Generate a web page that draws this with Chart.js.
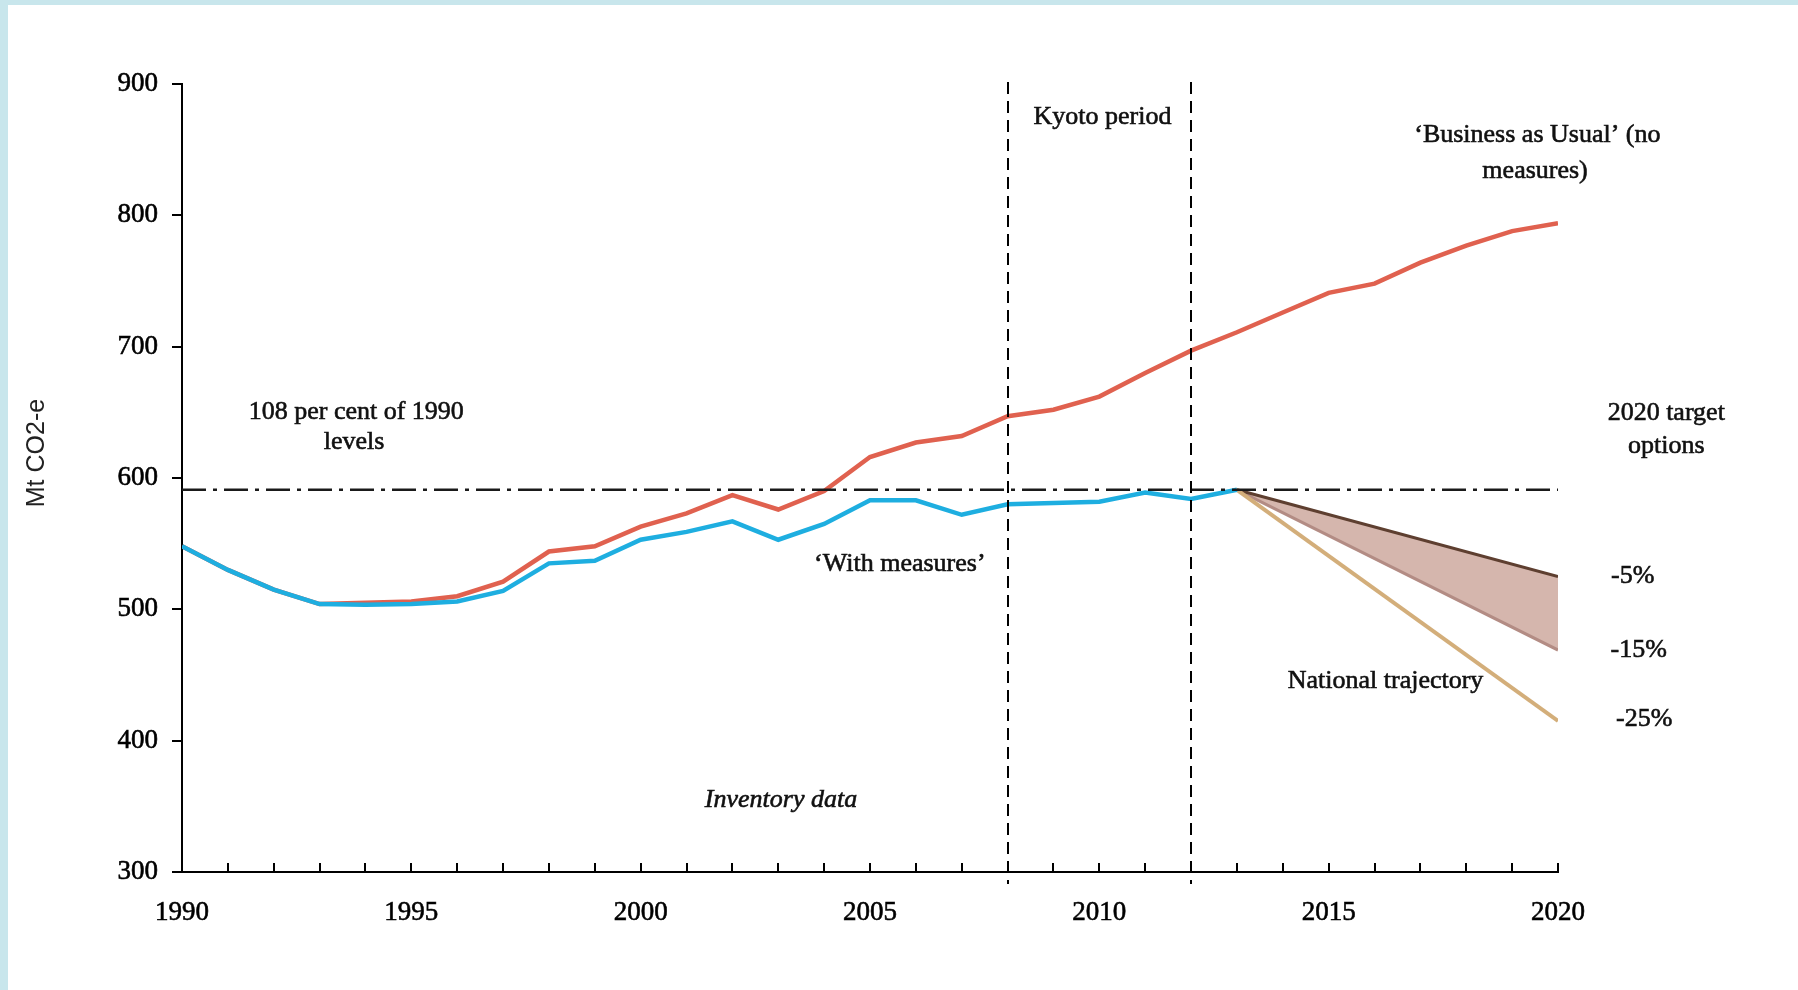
<!DOCTYPE html>
<html><head><meta charset="utf-8">
<script src="https://cdn.jsdelivr.net/npm/chart.js@4.4.0/dist/chart.umd.min.js"></script>
<style>
html,body{margin:0;padding:0;background:#c8e6ec;width:1798px;height:990px;overflow:hidden;}
#panel{position:absolute;left:8px;top:5px;width:1790px;height:985px;background:#fff;}
#wrap{position:absolute;left:0;top:0;width:1798px;height:990px;}
</style></head><body>
<div id="panel"></div>
<div id="wrap"><canvas id="c" width="1798" height="990"></canvas></div>
<script>
// ---- data ----
const years = [1990,1991,1992,1993,1994,1995,1996,1997,1998,1999,2000,2001,2002,2003,2004,2005,2006,2007,2008,2009,2010,2011,2012,2013,2014,2015,2016,2017,2018,2019,2020];
const withMeasures = [548,530,515,504,503.5,504,506,514,535,537,553,559,567,553,565,583,583,572,580,581,582,589,584,591];
const businessAsUsual = [548,530,515,504,505,506,510,521,544,548,563,573,587,576,590,616,627,632,647,652,662,680,697,711,726,741,748,764,777,788,794];
const targetYears = [2013, 2020];
const minus5 = [591, 525];
const minus15 = [591, 469];
const minus25 = [591, 415];
const level108 = 591;
const levelYears = [1990, 2020];
const kyotoYears = [2008, 2012];
const xTickLabels = [1990,1995,2000,2005,2010,2015,2020];
const yTickValues = [300,400,500,600,700,800,900];
const yAxisTitle = 'Mt CO2-e';

// annotation texts placed in data units
const notes = [
  {text:'Kyoto period', x:2010.07, y:874.5},
  {text:'\u2018Business as Usual\u2019 (no', x:2019.55, y:861},
  {text:'measures)', x:2019.5, y:834},
  {text:'108 per cent of 1990', x:1993.8, y:650},
  {text:'levels', x:1993.75, y:627},
  {text:'2020 target', x:2022.36, y:649.5},
  {text:'options', x:2022.36, y:624.5},
  {text:'\u2018With measures\u2019', x:2005.65, y:534.5},
  {text:'-5%', x:2021.63, y:525},
  {text:'-15%', x:2021.76, y:469},
  {text:'-25%', x:2021.88, y:416},
  {text:'National trajectory', x:2016.24, y:445},
  {text:'Inventory data', x:2003.06, y:354.5, italic:true}
];

const SERIF = '"Liberation Serif","Times New Roman",serif';
const pts = (xs, ys) => ys.map((v,i)=>({x:xs[i], y:v}));

const overlay = {
  id:'overlay',
  afterDatasetsDraw(chart){
    const ctx = chart.ctx, xs = chart.scales.x, ys = chart.scales.y, a = chart.chartArea;
    ctx.save();
    // inward x ticks
    ctx.strokeStyle = '#000'; ctx.lineWidth = 2;
    for (let yr = xTickLabels[0]+1; yr <= xTickLabels[xTickLabels.length-1]; yr++){
      const px = Math.round(xs.getPixelForValue(yr));
      ctx.beginPath(); ctx.moveTo(px, a.bottom); ctx.lineTo(px, a.bottom-9); ctx.stroke();
    }
    // Kyoto period boundaries
    ctx.setLineDash([12,7]);
    kyotoYears.forEach(yr=>{
      const px = Math.round(xs.getPixelForValue(yr));
      ctx.beginPath(); ctx.moveTo(px, ys.getPixelForValue(900)-2); ctx.lineTo(px, a.bottom+12); ctx.stroke();
    });
    ctx.setLineDash([]);
    // texts
    ctx.fillStyle = '#111'; ctx.strokeStyle = '#111'; ctx.lineWidth = 0.6;
    ctx.textAlign = 'center'; ctx.textBaseline = 'middle';
    notes.forEach(n=>{
      ctx.font = (n.italic ? 'italic ' : '') + '26px ' + SERIF;
      const px = xs.getPixelForValue(n.x), py = ys.getPixelForValue(n.y);
      ctx.fillText(n.text, px, py);
      ctx.strokeText(n.text, px, py);
    });
    // y-axis title
    ctx.translate(ys.left + 17, ys.getPixelForValue(619));
    ctx.rotate(-Math.PI/2);
    ctx.font = '25px "Liberation Sans",Arial,sans-serif';
    ctx.fillStyle = '#222';
    ctx.fillText(yAxisTitle, 0, 0);
    ctx.restore();
  }
};

new Chart(document.getElementById('c'), {
  type:'line',
  data:{
    datasets:[
      {label:'108% level', data:pts(levelYears,[level108,level108]), borderColor:'#1a1a1a', borderWidth:2.5, borderDash:[24,7,4,7], pointRadius:0, order:0},
      {label:'With measures', data:pts(years, withMeasures), borderColor:'#1eaee0', borderWidth:4.5, pointRadius:0, order:1},
      {label:'Business as Usual', data:pts(years, businessAsUsual), borderColor:'#e0614f', borderWidth:4.5, pointRadius:0, order:2},
      {label:'-25%', data:pts(targetYears, minus25), borderColor:'#d3ae7a', borderWidth:4, pointRadius:0, order:3},
      {label:'-5%', data:pts(targetYears, minus5), borderColor:'#5e3f30', borderWidth:3, pointRadius:0, order:4},
      {label:'-15%', data:pts(targetYears, minus15), borderColor:'#b38c84', borderWidth:3, pointRadius:0, fill:'-1', backgroundColor:'#d5b6ad', order:5}
    ]
  },
  options:{
    responsive:false, animation:false, devicePixelRatio:1,
    layout:{padding:{left:20, top:84, right:240, bottom:0}},
    plugins:{legend:{display:false}, tooltip:{enabled:false}},
    elements:{line:{tension:0}},
    scales:{
      x:{type:'linear', position:'bottom', min:1990, max:2020,
        ticks:{stepSize:5, autoSkip:false, maxRotation:0, color:'#000', padding:25, font:{family:SERIF, size:27},
          textStrokeColor:'#000', textStrokeWidth:0.6,
          callback:v=> xTickLabels.includes(v) ? String(v) : ''},
        grid:{display:false, drawTicks:false},
        border:{display:true, color:'#000', width:2},
        afterFit:s=>{s.height = 118;}
      },
      y:{type:'linear', min:300, max:900,
        afterBuildTicks:s=>{s.ticks = yTickValues.map(v=>({value:v}));},
        ticks:{color:'#000', padding:14, font:{family:SERIF, size:27}, textStrokeColor:'#000', textStrokeWidth:0.6},
        grid:{drawOnChartArea:false, drawTicks:true, tickLength:10, color:'#000', lineWidth:2},
        border:{display:true, color:'#000', width:2},
        title:{display:false},
        afterFit:s=>{s.width = 162;}
      }
    }
  },
  plugins:[overlay]
});
</script>
</body></html>
